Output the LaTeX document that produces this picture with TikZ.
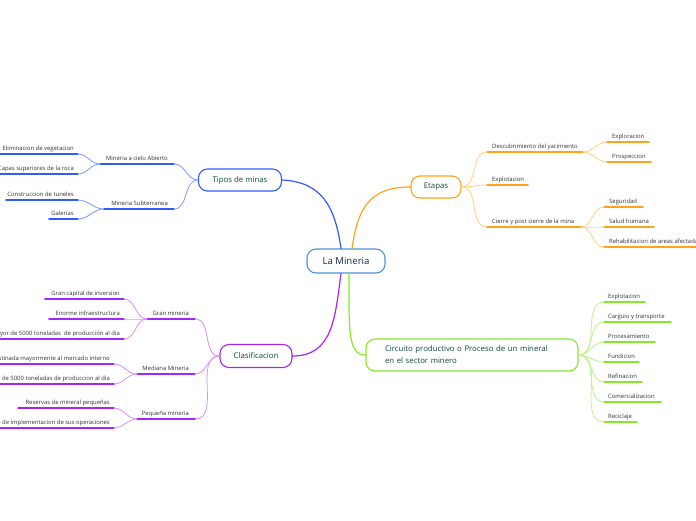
\documentclass[tikz,border=0pt]{standalone}
\usepackage{fontspec}
\setmainfont{Open Sans}
\usetikzlibrary{positioning}
\definecolor{rootblue}{HTML}{4F93D8}
\definecolor{rootink}{HTML}{13294B}
\definecolor{topicink}{HTML}{0E4A3A}
\definecolor{leafink}{HTML}{333333}
\definecolor{minablue}{HTML}{2F5BFF}
\definecolor{minalight}{HTML}{7D98FF}
\definecolor{etapaorange}{HTML}{FFA31A}
\definecolor{etapalight}{HTML}{FFCF80}
\definecolor{clasviolet}{HTML}{A526F2}
\definecolor{claslight}{HTML}{D890FF}
\definecolor{circgreen}{HTML}{86E826}
\definecolor{circlight}{HTML}{BDF48A}

\begin{document}
\begin{tikzpicture}[x=1pt,y=-1pt,line cap=round,line join=round,
  topic/.style={draw,line width=1.1pt,rounded corners=9pt,fill=white,
    text=topicink,inner sep=0pt,font=\fontsize{7.8}{12}\selectfont},
  leaftext/.style={text=leafink,inner sep=0pt,font=\fontsize{5.9}{7}\selectfont},
  underline/.style={line width=1.6pt},
  branch/.style={line width=0.8pt}]
  \useasboundingbox (0,0) rectangle (696,520);
  \clip (0,0) rectangle (696,520);

  % Central idea and the four main topics.
  \node[topic,draw=rootblue,text=rootink,minimum width=78,minimum height=24,
    font=\fontsize{9.6}{11}\selectfont] (mineria) at (346,261) {La Mineria};
  \node[topic,draw=minablue,minimum width=83,minimum height=22] (tipos) at (240,180) {Tipos de minas};
  \node[topic,draw=etapaorange,minimum width=50,minimum height=22] (etapas) at (436,187) {Etapas};
  \node[topic,draw=clasviolet,minimum width=72,minimum height=23] (clasif) at (256,356) {Clasificacion};
  \node[topic,draw=circgreen,minimum width=212,minimum height=32,text width=174,align=left]
    (circuito) at (472,355) {Circuito productivo o Proceso de un mineral\\en el sector minero};

  \draw[minablue,line width=1.2pt] (tipos.east) .. controls +(40,2) and +(-6,-42) .. ([xshift=-5]mineria.north);
  \draw[etapaorange,line width=1.2pt] ([xshift=6]mineria.north) .. controls +(6,-42) and +(-40,0) .. (etapas.west);
  \draw[clasviolet,line width=1.2pt] ([xshift=-5]mineria.south) .. controls +(-6,45) and +(40,0) .. (clasif.east);
  \draw[circgreen,line width=1.2pt] ([xshift=3]mineria.south) .. controls +(0,55) and +(-18,0) .. (circuito.west);

  % Tipos de minas: items on the left side.
  \foreach \n/\xl/\xr/\yy/\txt in {
    cab/100/174/164/{Mineria a cielo Abierto},
    sub/104/174/209/{Mineria Subterranea}
  }{
    \coordinate (\n-l) at (\xl,\yy);
    \coordinate (\n-r) at (\xr,\yy);
    \draw[minablue,underline] (\n-l) -- (\n-r);
    \node[leaftext,anchor=base east] (\n) at (\xr-6,\yy-4) {\txt};
    \draw[minalight,branch] (tipos.west) to[out=180,in=0] (\n-r);
  }
  \foreach \n/\p/\xl/\xr/\yy/\txt in {
    veg/cab/-5/78/154/{Eliminacion de vegetacion},
    roca/cab/-5/78/174/{Capas superiores de la roca},
    tun/sub/6/78/200/{Construccion de tuneles},
    gal/sub/49/78/219/{Galerias}
  }{
    \coordinate (\n-l) at (\xl,\yy);
    \coordinate (\n-r) at (\xr,\yy);
    \draw[minablue,underline] (\n-l) -- (\n-r);
    \node[leaftext,anchor=base east] (\n) at (\xr-4,\yy-4) {\txt};
    \draw[minalight,branch] (\p-l) to[out=180,in=0] (\n-r);
  }

  % Clasificacion: items on the left side.
  \foreach \n/\xl/\xr/\yy/\txt in {
    gran/147/195/319/{Gran mineria},
    med/137/195/374/{Mediana Mineria},
    peq/137/195/419/{Pequeña mineria}
  }{
    \coordinate (\n-l) at (\xl,\yy);
    \coordinate (\n-r) at (\xr,\yy);
    \draw[clasviolet,underline] (\n-l) -- (\n-r);
    \node[leaftext,anchor=base east] (\n) at (\xr-6,\yy-4) {\txt};
    \draw[claslight,branch] (clasif.west) to[out=180,in=0] (\n-r);
  }
  \foreach \n/\p/\xl/\xr/\yy/\txt in {
    capital/gran/45/124/299/{Gran capital de inversion},
    infra/gran/49/124/319/{Enorme infraestructura},
    mayor/gran/-5/124/339/{Mayor de 5000 toneladas\ \ de producción al dia},
    destino/med/-5/114/364/{Destinada mayormente al mercado interno},
    menor/med/-5/114/384/{Menor de 5000 toneladas de produccion al dia},
    reserva/peq/18/114/408/{Reservas de mineral pequeñas},
    costo/peq/-5/114/428/{Bajo costo de implementacion de sus operaciones}
  }{
    \coordinate (\n-l) at (\xl,\yy);
    \coordinate (\n-r) at (\xr,\yy);
    \draw[clasviolet,underline] (\n-l) -- (\n-r);
    \node[leaftext,anchor=base east] (\n) at (\xr-4,\yy-4) {\txt};
    \draw[claslight,branch] (\p-l) to[out=180,in=0] (\n-r);
  }

  % Etapas: items on the right side.
  \foreach \n/\xl/\xr/\yy/\txt in {
    desc/487/583/152/{Descubrimiento del yacimiento},
    expl/487/528/185/{Explotacion},
    cierre/487/581/227/{Cierre y post cierre de la mina}
  }{
    \coordinate (\n-l) at (\xl,\yy);
    \coordinate (\n-r) at (\xr,\yy);
    \draw[etapaorange,underline] (\n-l) -- (\n-r);
    \node[leaftext,anchor=base west] (\n) at (\xl+5,\yy-4) {\txt};
    \draw[etapalight,branch] (etapas.east) to[out=0,in=180] (\n-l);
  }
  \foreach \n/\p/\xl/\xr/\yy/\txt in {
    explor/desc/607/649/142/{Exploracion},
    prosp/desc/607/651/162/{Prospeccion},
    segur/cierre/604/643/207/{Seguridad},
    salud/cierre/604/654/227/{Salud humana},
    rehab/cierre/604/705/247/{Rehabilitacion de areas afectadas}
  }{
    \coordinate (\n-l) at (\xl,\yy);
    \coordinate (\n-r) at (\xr,\yy);
    \draw[etapaorange,underline] (\n-l) -- (\n-r);
    \node[leaftext,anchor=base west] (\n) at (\xl+5,\yy-4) {\txt};
    \draw[etapalight,branch] (\p-r) to[out=0,in=180] (\n-l);
  }

  % Circuito productivo: the seven steps.
  \foreach \n/\xr/\yy/\txt in {
    gexpl/645/302/{Explotacion},
    carguio/671/322/{Carguio y transporte},
    proc/655/342/{Procesamiento},
    fund/639/362/{Fundicion},
    refin/642/382/{Refinacion},
    comer/661/402/{Comercializacion},
    recic/637/422/{Reciclaje}
  }{
    \coordinate (\n-l) at (604,\yy);
    \coordinate (\n-r) at (\xr,\yy);
    \draw[circgreen,underline] (\n-l) -- (\n-r);
    \node[leaftext,anchor=base west] (\n) at (608,\yy-4) {\txt};
    \draw[circlight,branch] (circuito.east) to[out=0,in=180] (\n-l);
  }
\end{tikzpicture}
\end{document}
